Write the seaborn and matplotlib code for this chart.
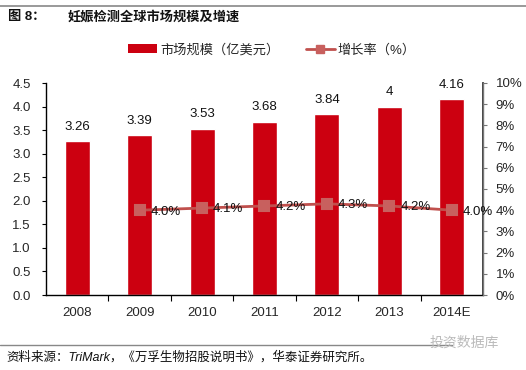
import matplotlib
matplotlib.use("Agg")
import matplotlib.pyplot as plt
import seaborn as sns
import pandas as pd
from matplotlib.lines import Line2D
from matplotlib.patches import Patch
from matplotlib.ticker import FixedLocator, FuncFormatter

years = ["2008", "2009", "2010", "2011", "2012", "2013", "2014E"]
market = [3.26, 3.39, 3.53, 3.68, 3.84, 4.00, 4.16]
market_labels = ["3.26", "3.39", "3.53", "3.68", "3.84", "4", "4.16"]
growth_years = ["2009", "2010", "2011", "2012", "2013", "2014E"]
growth = [4.0, 4.1, 4.2, 4.3, 4.2, 4.0]
left_ticks = [0.0, 0.5, 1.0, 1.5, 2.0, 2.5, 3.0, 3.5, 4.0, 4.5]
right_ticks = [0, 1, 2, 3, 4, 5, 6, 7, 8, 9, 10]

sns.set_theme(style="white")
plt.rcParams["font.family"] = ["Liberation Sans", "Noto Sans CJK SC", "DejaVu Sans"]

bar_color = "#CC0010"
line_color = "#C0504D"

fig = plt.figure(figsize=(5.26, 3.70), dpi=100)
ax = fig.add_axes([46 / 526, 1 - 295 / 370, (483 - 46) / 526, (295 - 83) / 370])

df = pd.DataFrame({"year": years, "market": market})
sns.barplot(data=df, x="year", y="market", order=years, color=bar_color,
            saturation=1, width=0.4, ax=ax)
ax.set_xlim(-0.5, 6.5)
ax.set_ylim(0, 4.5)
ax.set_xlabel("")
ax.set_ylabel("")
ax.yaxis.set_major_locator(FixedLocator(left_ticks))
ax.yaxis.set_major_formatter(FuncFormatter(lambda v, p: f"{v:.1f}"))
ax.tick_params(axis="y", which="major", direction="out", length=3, width=0.8,
               color="black", labelsize=9.5, pad=8, left=True)
ax.set_xticks(range(len(years)))
ax.set_xticklabels(years)
ax.tick_params(axis="x", which="major", length=0, labelsize=9.5, pad=9)
ax.set_xticks([i + 0.5 for i in range(len(years) - 1)], minor=True)
ax.tick_params(axis="x", which="minor", direction="out", length=4, width=0.8,
               color="black", bottom=True)
for s in ["top"]:
    ax.spines[s].set_visible(False)
for s in ["left", "bottom"]:
    ax.spines[s].set_color("black")
    ax.spines[s].set_linewidth(1.0)

for i, (v, lab) in enumerate(zip(market, market_labels)):
    ax.annotate(lab, (i, v), xytext=(0, 6), textcoords="offset points",
                ha="center", va="bottom", fontsize=9.5, color="#111111")

ax2 = ax.twinx()
gdf = pd.DataFrame({"year": growth_years, "growth": growth})
sns.pointplot(data=gdf, x="year", y="growth", order=years, color=line_color,
              markers="s", markersize=6.5, linewidth=2.0, ax=ax2)
for ln in ax2.lines:
    ln.set_markerfacecolor("#C8605E")
    ln.set_markeredgecolor("#C8605E")
ax2.set_xlim(-0.5, 6.5)
ax2.set_ylim(0, 10)
ax2.set_ylabel("")
ax2.set_xlabel("")
ax2.yaxis.set_major_locator(FixedLocator(right_ticks))
ax2.yaxis.set_major_formatter(FuncFormatter(lambda v, p: f"{int(v)}%"))
ax2.tick_params(axis="y", which="major", direction="out", length=3, width=0.8,
                color="#777777", labelsize=9.5, pad=6, right=True)
ax2.spines["top"].set_visible(False)
ax2.spines["left"].set_visible(False)
ax2.spines["bottom"].set_visible(False)
ax2.spines["right"].set_color("#777777")
ax2.spines["right"].set_linewidth(1.0)

for y, g in zip(growth_years, growth):
    i = years.index(y)
    ax2.annotate(f"{g:.1f}%", (i, g), xytext=(8, -1), textcoords="offset points",
                 ha="left", va="center", fontsize=9.5, color="#111111")

handles = [Patch(facecolor=bar_color, edgecolor="none"),
           Line2D([], [], color=line_color, lw=2.0, marker="s", markersize=6,
                  markerfacecolor="#C8605E", markeredgecolor="#C8605E")]
fig.legend(handles, ["市场规模（亿美元）", "增长率（%）"], loc="center",
           bbox_to_anchor=(272 / 526, 1 - 50 / 370), ncol=2, frameon=False,
           fontsize=9.5, handlelength=2.2, handleheight=0.7, columnspacing=2.0,
           handletextpad=0.2)

# header / footer
fig.add_artist(Line2D([0, 1], [1 - 6 / 370, 1 - 6 / 370], color="#888888", lw=1.2,
                      transform=fig.transFigure))
fig.text(8 / 526, 1 - 17 / 370, "图 8：", fontsize=9.5, fontweight="bold",
         va="center", ha="left", color="#111111")
fig.text(68 / 526, 1 - 17 / 370, "妊娠检测全球市场规模及增速", fontsize=9.5,
         fontweight="bold", va="center", ha="left", color="#111111")
fig.add_artist(Line2D([0, 0.86], [1 - 345 / 370, 1 - 345 / 370], color="#888888",
                      lw=1.0, transform=fig.transFigure))
fig.text(6 / 526, 1 - 357 / 370,
         "资料来源：TriMark，《万孚生物招股说明书》，华泰证券研究所。",
         fontsize=9, style="italic", va="center", ha="left", color="#111111")
fig.text(430 / 526, 1 - 343 / 370, "投资数据库", fontsize=10, va="center",
         ha="left", color="#BBBBBB")

fig.savefig("out.png", dpi=100)
